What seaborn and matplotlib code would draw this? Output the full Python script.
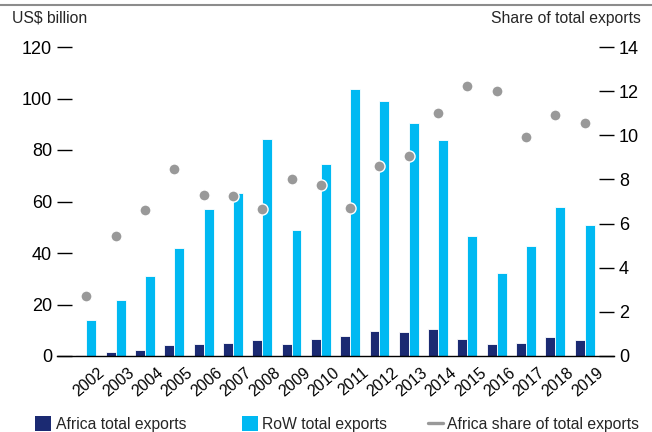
import numpy as np
import pandas as pd
import matplotlib
matplotlib.use("Agg")
import matplotlib.pyplot as plt
from matplotlib.lines import Line2D
from matplotlib.patches import Patch
from matplotlib.transforms import ScaledTranslation
import seaborn as sns

# Export values (US$ billion) and Africa's share (%) by year
years = ["2002", "2003", "2004", "2005", "2006", "2007", "2008", "2009", "2010",
         "2011", "2012", "2013", "2014", "2015", "2016", "2017", "2018", "2019"]
africa_exports = [0.5, 1.4, 2.3, 4.1, 4.7, 5.2, 6.2, 4.5, 6.5,
                  7.8, 9.6, 9.2, 10.6, 6.7, 4.7, 4.9, 7.3, 6.1]
row_exports = [13.9, 21.7, 31.2, 41.9, 57.0, 63.3, 84.3, 48.9, 74.6,
               103.6, 99.2, 90.5, 83.9, 46.7, 32.4, 42.6, 57.7, 50.8]
africa_share = [2.7, 5.45, 6.6, 8.45, 7.3, 7.25, 6.65, 8.0, 7.75,
                6.7, 8.6, 9.05, 11.0, 12.25, 12.0, 9.9, 10.9, 10.55]

series_names = ["Africa total exports", "RoW total exports", "Africa share of total exports"]
navy = "#1B2A72"
cyan = "#00B9F2"
grey = "#999999"

sns.set_theme(style="white")
plt.rcParams["font.family"] = ["Liberation Sans", "DejaVu Sans"]

df = pd.DataFrame({
    "Year": years * 2,
    "Value": africa_exports + row_exports,
    "Series": [series_names[0]] * len(years) + [series_names[1]] * len(years),
})

fig = plt.figure(figsize=(6.52, 4.32), dpi=100)
ax = fig.add_axes([57 / 652, 76 / 432, 557 / 652, 309 / 432])

sns.barplot(data=df, x="Year", y="Value", hue="Series", hue_order=series_names[:2],
            palette=[navy, cyan], saturation=1, width=0.68, edgecolor="white",
            linewidth=0.6, legend=False, ax=ax)

ax.set_xlim(-1.0, 18.0)
ax.set_ylim(0, 120)
ax.set_yticks(np.arange(0, 121, 20))
ax.set_xlabel("")
ax.set_ylabel("")
for s in ["top", "right", "left"]:
    ax.spines[s].set_visible(False)
ax.spines["bottom"].set_color("black")
ax.spines["bottom"].set_linewidth(1.0)
ax.tick_params(axis="y", direction="in", length=11, width=1, color="black",
               left=True, pad=3.6, labelsize=13, labelcolor="black")
ax.tick_params(axis="x", length=0, labelsize=11.5, labelcolor="black", pad=6.5)
shift = ScaledTranslation(3 / 100, 0, fig.dpi_scale_trans)
for lbl in ax.get_xticklabels():
    lbl.set_rotation(40)
    lbl.set_transform(lbl.get_transform() + shift)

# Share of total exports on the secondary axis
ax2 = ax.twinx()
sns.pointplot(x=years, y=africa_share, color=grey, linestyle="none", markers="o",
              markersize=8, markeredgecolor="white", markeredgewidth=1.0, ax=ax2)
ax2.set_xlim(-1.0, 18.0)
ax2.set_ylim(0, 14)
ax2.set_yticks(np.arange(0, 15, 2))
for s in ax2.spines.values():
    s.set_visible(False)
ax2.tick_params(axis="y", direction="in", length=11, width=1, color="black",
                right=True, pad=3.6, labelsize=13, labelcolor="black")

fig.text(12 / 652, 1 - 18 / 432, "US$ billion", fontsize=11.3, ha="left", va="center")
fig.text(641 / 652, 1 - 18 / 432, "Share of total exports", fontsize=11.3,
         ha="right", va="center")

# Rule across the top of the figure
fig.add_artist(Line2D([0, 1], [1 - 5 / 432, 1 - 5 / 432], color="#8c8c8c",
                      lw=1.5, transform=fig.transFigure))

# One legend entry per series, spread along the bottom edge
handles = [Patch(facecolor=navy, edgecolor="none"),
           Patch(facecolor=cyan, edgecolor="none"),
           Line2D([0], [0], color=grey, lw=2.4)]
starts = [35, 242, 428]
lengths = [1.05, 1.0, 0.95]
pads = [0.3, 0.3, 0.25]
for h, name, x0, hl, tp in zip(handles, series_names, starts, lengths, pads):
    fig.legend([h], [name], loc="center left", frameon=False,
               bbox_to_anchor=(x0 / 652, 8 / 432), fontsize=11.3, handlelength=hl,
               handleheight=1.1, handletextpad=tp, borderaxespad=0, borderpad=0)

fig.savefig("out.png", dpi=100)
